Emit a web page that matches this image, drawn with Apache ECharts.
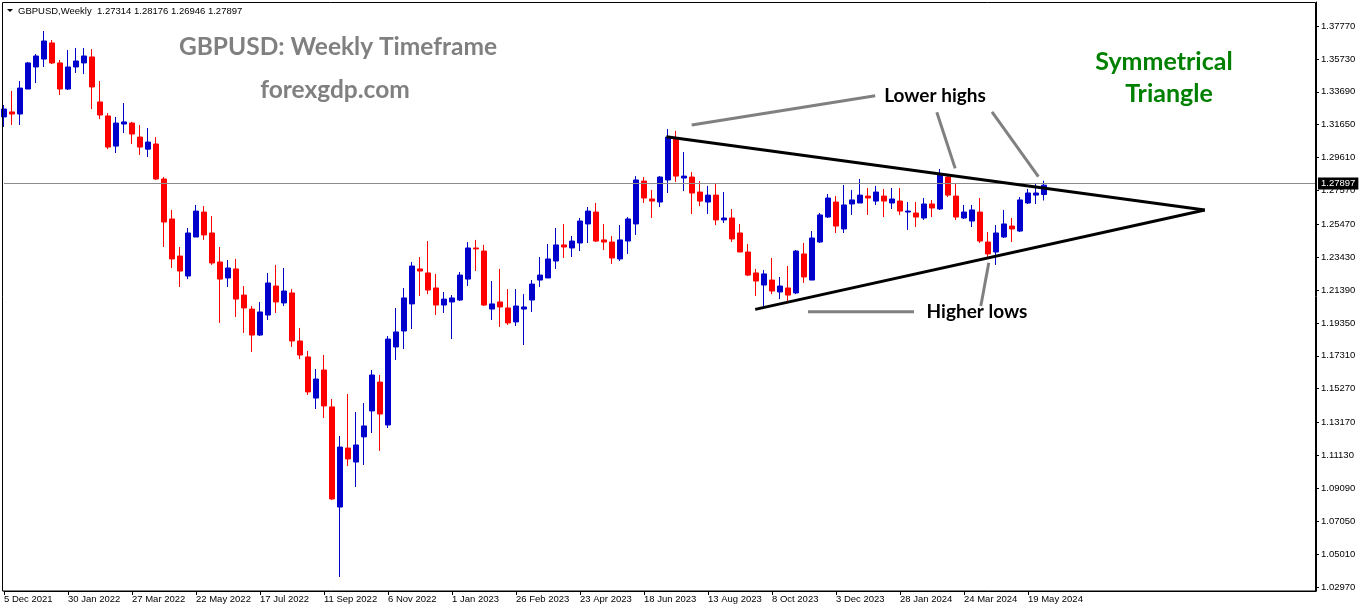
<!DOCTYPE html>
<html><head><meta charset="utf-8">
<script src="https://cdn.jsdelivr.net/npm/echarts@6/dist/echarts.min.js"></script>
<style>html,body{margin:0;padding:0;background:#fff}#c{width:1362px;height:611px}</style>
</head><body><div id="c"></div>
<script>
// ---- data (GBPUSD weekly) ----
const tickLabels = ['5 Dec 2021','30 Jan 2022','27 Mar 2022','22 May 2022','17 Jul 2022','11 Sep 2022','6 Nov 2022','1 Jan 2023','26 Feb 2023','23 Apr 2023','18 Jun 2023','13 Aug 2023','8 Oct 2023','3 Dec 2023','28 Jan 2024','24 Mar 2024','19 May 2024'];
const priceTicks = [1.37770,1.35730,1.33690,1.31650,1.29610,1.27570,1.25470,1.23430,1.21390,1.19350,1.17310,1.15270,1.13170,1.11130,1.09090,1.07050,1.05010,1.02970];
const opens = [1.3213,1.3244,1.3231,1.3386,1.3523,1.3572,1.3672,1.3548,1.3386,1.3523,1.3548,1.3585,1.3306,1.3219,1.3032,1.3169,1.3175,1.3088,1.3013,1.3045,
1.2828,1.2580,1.2350,1.2226,1.2468,1.2623,1.2493,1.2313,1.2214,1.2270,1.2108,1.2021,1.1860,1.1984,1.2164,1.2059,1.2121,1.1823,1.1724,1.1469,
1.1643,1.1414,1.0793,1.1159,1.1072,1.1228,1.1389,1.1568,1.1302,1.1786,1.1885,1.2053,1.2270,1.2245,1.2152,1.2046,1.2065,1.2077,1.2207,1.2400,
1.2381,1.2021,1.2065,1.2028,1.1941,1.2021,1.2077,1.2201,1.2214,1.2319,1.2419,1.2400,1.2431,1.2549,1.2623,1.2450,1.2437,1.2332,1.2443,1.2549,
1.2815,1.2704,1.2685,1.2822,1.3076,1.2834,1.2840,1.2747,1.2685,1.2728,1.2574,1.2586,1.2493,1.2375,1.2245,1.2170,1.2201,1.2127,1.2152,1.2121,
1.2363,1.2201,1.2437,1.2592,1.2685,1.2518,1.2673,1.2679,1.2722,1.2691,1.2722,1.2679,1.2691,1.2623,1.2617,1.2586,1.2673,1.2642,1.2840,1.2722,
1.2586,1.2567,1.2623,1.2437,1.2375,1.2468,1.2536,1.2505,1.2679,1.2728,1.27314];
const closes = [1.3262,1.3231,1.3392,1.3548,1.3591,1.3684,1.3548,1.3386,1.3523,1.3560,1.3591,1.3399,1.3225,1.3026,1.3175,1.3182,1.3107,1.3026,1.3057,1.2828,
1.2561,1.2332,1.2257,1.2493,1.2629,1.2481,1.2307,1.2207,1.2276,1.2083,1.2028,1.1860,1.2003,1.2183,1.2065,1.2133,1.1823,1.1736,1.1507,1.1587,
1.1420,1.0843,1.1165,1.1091,1.1178,1.1296,1.1612,1.1370,1.1835,1.1879,1.2090,1.2288,1.2257,1.2139,1.2046,1.2083,1.2090,1.2232,1.2400,1.2394,
1.2046,1.2053,1.2034,1.1935,1.2040,1.2034,1.2176,1.2232,1.2332,1.2419,1.2406,1.2443,1.2567,1.2629,1.2443,1.2437,1.2338,1.2450,1.2580,1.2822,
1.2710,1.2691,1.2840,1.3088,1.2846,1.2846,1.2741,1.2691,1.2728,1.2574,1.2586,1.2456,1.2375,1.2232,1.2195,1.2239,1.2133,1.2164,1.2108,1.2381,
1.2220,1.2462,1.2605,1.2710,1.2536,1.2667,1.2698,1.2728,1.2710,1.2747,1.2691,1.2704,1.2629,1.2629,1.2592,1.2673,1.2648,1.2853,1.2728,1.2592,
1.2623,1.2636,1.2443,1.2363,1.2493,1.2549,1.2518,1.2698,1.2741,1.2741,1.27897];
const lows = [1.3151,1.3163,1.3163,1.3386,1.3423,1.3523,1.3541,1.3349,1.3380,1.3486,1.3479,1.3262,1.3200,1.3013,1.2989,1.3113,1.3045,1.2977,1.2964,1.2822,
1.2406,1.2276,1.2158,1.2207,1.2468,1.2450,1.2295,1.1935,1.2158,1.1972,1.1873,1.1755,1.1854,1.1953,1.1997,1.2040,1.1786,1.1711,1.1488,1.1401,
1.1345,1.0837,1.0359,1.1047,1.0917,1.1054,1.1252,1.1141,1.1283,1.1705,1.1773,1.1897,1.2102,1.2114,1.1984,1.1997,1.1835,1.2071,1.2164,1.2257,
1.2040,1.1953,1.1910,1.1922,1.1916,1.1798,1.2003,1.2158,1.2214,1.2270,1.2338,1.2344,1.2381,1.2431,1.2437,1.2387,1.2301,1.2319,1.2363,1.2481,
1.2679,1.2586,1.2654,1.2741,1.2809,1.2753,1.2611,1.2660,1.2611,1.2542,1.2555,1.2437,1.2375,1.2226,1.2102,1.2034,1.2114,1.2083,1.2071,1.2114,
1.2183,1.2201,1.2431,1.2586,1.2493,1.2493,1.2605,1.2679,1.2605,1.2667,1.2592,1.2642,1.2605,1.2512,1.2530,1.2574,1.2592,1.2636,1.2716,1.2574,
1.2580,1.2530,1.2431,1.2344,1.2295,1.2462,1.2437,1.2499,1.2673,1.2673,1.26946];
const highs = [1.3287,1.3374,1.3436,1.3554,1.3603,1.3746,1.3690,1.3566,1.3628,1.3641,1.3641,1.3634,1.3436,1.3237,1.3213,1.3299,1.3182,1.3163,1.3144,1.3088,
1.2840,1.2636,1.2406,1.2524,1.2667,1.2660,1.2598,1.2406,1.2325,1.2332,1.2164,1.2040,1.2065,1.2245,1.2295,1.2276,1.2145,1.1904,1.1761,1.1649,
1.1736,1.1463,1.1234,1.1494,1.1382,1.1438,1.1643,1.1612,1.1854,1.2028,1.2152,1.2313,1.2344,1.2443,1.2239,1.2127,1.2108,1.2251,1.2437,1.2450,
1.2419,1.2195,1.2270,1.2145,1.2145,1.2114,1.2201,1.2344,1.2425,1.2524,1.2549,1.2474,1.2586,1.2654,1.2679,1.2549,1.2474,1.2542,1.2592,1.2846,
1.2840,1.2760,1.2846,1.3138,1.3126,1.2995,1.2871,1.2815,1.2785,1.2797,1.2747,1.2642,1.2549,1.2425,1.2270,1.2263,1.2338,1.2220,1.2288,1.2387,
1.2431,1.2505,1.2617,1.2735,1.2722,1.2791,1.2760,1.2828,1.2772,1.2785,1.2766,1.2772,1.2772,1.2685,1.2685,1.2710,1.2698,1.2890,1.2853,1.2803,
1.2667,1.2667,1.2710,1.2499,1.2542,1.2636,1.2586,1.2716,1.2766,1.2797,1.28176];

// annotation lines, in (week index, price)
const triangleUpper = [[82.8,1.3090],[150.1,1.2636]];
const triangleLower = [[93.9,1.2019],[150.1,1.2636]];
const pointerLines = [
  [[85.96,1.3163],[108.9,1.3345]],
  [[116.6,1.3242],[118.9,1.2894]],
  [[123.5,1.3245],[129.3,1.2843]],
  [[100.5,1.2005],[113.75,1.2005]],
  [[123.1,1.2309],[122.1,1.2040]]
];

const totalSlots = 165;
const cats = [];
for (let i = 0; i < totalSlots; i++) cats.push(String(i));
const candles = opens.map((o, i) => [o, closes[i], lows[i], highs[i]]);
const lastOpen = opens[opens.length-1], lastHigh = highs[highs.length-1], lastLow = lows[lows.length-1], lastClose = closes[closes.length-1];
const isTick = (idx) => idx % 8 === 0 && (idx / 8) < tickLabels.length;

const FONT = 'Liberation Sans';
const chart = echarts.init(document.getElementById('c'), null, {renderer: 'canvas'});

const series = [{
  type: 'candlestick',
  xAxisIndex: 0, yAxisIndex: 0,
  data: candles,
  barWidth: 5,
  clip: false,
  silent: true,
  itemStyle: {color: '#0000cc', color0: '#ff0000', borderColor: '#0000cc', borderColor0: '#ff0000', borderWidth: 1},
  markLine: {
    silent: true, animation: false,
    symbol: ['none', 'none'],
    lineStyle: {color: '#8c8c8c', width: 1, type: 'solid'},
    label: {position: 'end', formatter: lastClose.toFixed(5), backgroundColor: '#000', color: '#fff',
            fontFamily: FONT, fontSize: 9.5, padding: [1, 3, 1, 3], distance: 2},
    data: [{yAxis: lastClose}]
  }
}];
const lineSeries = (data, color, width) => ({
  type: 'line', xAxisIndex: 1, yAxisIndex: 0, data, symbol: 'none', showSymbol: false,
  silent: true, animation: false, z: 5,
  lineStyle: {color, width, cap: 'butt'}
});
series.push(lineSeries(triangleUpper, '#000', 3));
series.push(lineSeries(triangleLower, '#000', 3));
pointerLines.forEach(p => series.push(lineSeries(p, '#808080', 3)));

chart.setOption({
  animation: false,
  backgroundColor: '#fff',
  grid: {left: 4, right: 46, top: 2, bottom: 20, show: false},
  xAxis: [{
    type: 'category', data: cats, boundaryGap: false,
    axisLine: {show: true, onZero: false, lineStyle: {color: '#000', width: 1}},
    axisTick: {show: true, interval: (idx) => isTick(idx), length: 4, lineStyle: {color: '#000'}},
    axisLabel: {show: true, interval: (idx) => isTick(idx), align: 'left', margin: 3,
      color: '#000', fontFamily: FONT, fontSize: 9.5,
      formatter: (v, idx) => isTick(idx) ? tickLabels[idx / 8] : ''},
    splitLine: {show: false}
  }, {
    type: 'value', min: 0, max: totalSlots - 1, show: false,
    axisLine: {show: false, onZero: false}, axisTick: {show: false}, axisLabel: {show: false}, splitLine: {show: false}
  }],
  yAxis: [{
    type: 'value', position: 'right', min: 1.0272, max: 1.3926, scale: true,
    axisLine: {show: true, onZero: false, lineStyle: {color: '#000', width: 1}},
    axisTick: {show: true, length: 3, customValues: priceTicks, lineStyle: {color: '#000'}},
    axisLabel: {show: true, customValues: priceTicks, margin: 5, color: '#000', fontFamily: FONT, fontSize: 9.5,
      formatter: (v) => Number(v).toFixed(5)},
    splitLine: {show: false},
    minorTick: {show: false}, minorSplitLine: {show: false}
  }],
  series,
  graphic: [
    {type: 'rect', silent: true, z: 10, shape: {x: 2.5, y: 2.5, width: 1313, height: 588.5},
     style: {fill: 'none', stroke: '#000', lineWidth: 1}},
    {type: 'polygon', silent: true, shape: {points: [[7, 9], [13, 9], [10, 12]]}, style: {fill: '#000'}},
    {type: 'text', silent: true, x: 18, y: 11,
     style: {text: 'GBPUSD,Weekly  ' + lastOpen.toFixed(5) + ' ' + lastHigh.toFixed(5) + ' ' + lastLow.toFixed(5) + ' ' + lastClose.toFixed(5),
             fill: '#000', font: '9.5px "Liberation Sans"', textVerticalAlign: 'middle'}},
    {type: 'text', silent: true, x: 338, y: 47,
     style: {text: 'GBPUSD: Weekly Timeframe', fill: '#808080', font: 'bold 24.5px Lato', textAlign: 'center', textVerticalAlign: 'middle'}},
    {type: 'text', silent: true, x: 335, y: 90,
     style: {text: 'forexgdp.com', fill: '#808080', font: 'bold 24.5px Lato', textAlign: 'center', textVerticalAlign: 'middle'}},
    {type: 'text', silent: true, x: 1164, y: 62,
     style: {text: 'Symmetrical', fill: '#008000', font: 'bold 25px Lato', textAlign: 'center', textVerticalAlign: 'middle'}},
    {type: 'text', silent: true, x: 1169, y: 94,
     style: {text: 'Triangle', fill: '#008000', font: 'bold 25px Lato', textAlign: 'center', textVerticalAlign: 'middle'}},
    {type: 'text', silent: true, x: 935, y: 96,
     style: {text: 'Lower highs', fill: '#000', font: 'bold 19px Lato', textAlign: 'center', textVerticalAlign: 'middle'}},
    {type: 'text', silent: true, x: 977, y: 312,
     style: {text: 'Higher lows', fill: '#000', font: 'bold 19px Lato', textAlign: 'center', textVerticalAlign: 'middle'}}
  ]
});
</script>
</body></html>
